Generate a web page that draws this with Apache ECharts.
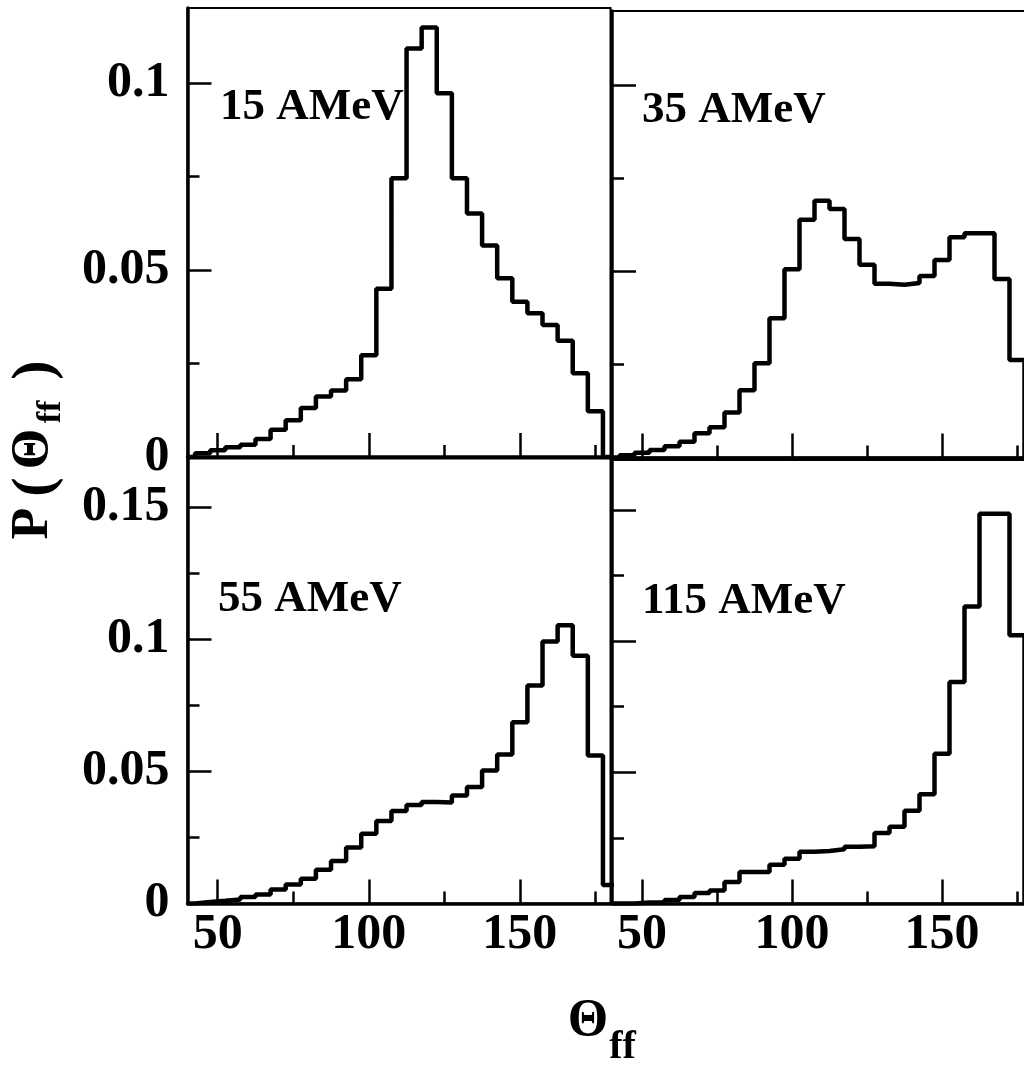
<!DOCTYPE html>
<html>
<head>
<meta charset="utf-8">
<script src="https://cdn.jsdelivr.net/npm/echarts@6/dist/echarts.min.js"></script>
<style>html,body{margin:0;padding:0;background:#fff}#c{width:1024px;height:1066px}</style>
</head>
<body>
<div id="c"></div>
<script>
// ---- data ----
const binCenters = [45,50,55,60,65,70,75,80,85,90,95,100,105,110,115,120,125,130,135,140,145,150,155,160,165,170,175,180];
const p15  = [0.001,0.0018,0.0026,0.0033,0.0048,0.0073,0.0098,0.0131,0.0162,0.0178,0.0208,0.0272,0.045,0.0745,0.1092,0.1148,0.0972,0.0745,0.0651,0.0565,0.0478,0.0415,0.0384,0.0353,0.0311,0.0224,0.0122,0];
const p35  = [0.0006,0.0013,0.002,0.003,0.0042,0.0065,0.0081,0.0121,0.0181,0.0253,0.0374,0.0506,0.0639,0.069,0.0668,0.0587,0.0518,0.0467,0.0464,0.0469,0.0488,0.0531,0.0592,0.0603,0.0603,0.048,0.0262,0];
const p55  = [0.0006,0.001,0.0015,0.0025,0.0034,0.0053,0.0072,0.0094,0.0128,0.0161,0.0212,0.0264,0.0312,0.035,0.0373,0.0384,0.0382,0.0409,0.0441,0.0504,0.0564,0.0686,0.0825,0.0992,0.1054,0.0938,0.056,0.007];
const p115 = [0,0.0004,0.0005,0.0013,0.0025,0.004,0.005,0.0082,0.012,0.012,0.0148,0.0171,0.0197,0.02,0.0207,0.0216,0.0218,0.0269,0.0292,0.0353,0.0416,0.0571,0.0844,0.1132,0.1485,0.1485,0.1022,0];
const panelLabels = ['15 AMeV','35 AMeV','55 AMeV','115 AMeV'];
const xMin = 40, xMax = 180;
const xMajorTicks = [50,100,150];
const xMinorTicks = [75,125,175];
const yMajorTop = [0,0.05,0.1];
const yMinorTop = [0.025,0.075];
const yMajorBottom = [0,0.05,0.1,0.15];
const yMinorBottom = [0.025,0.075,0.125];
const yMaxTop = 0.12, yMaxBottomL = 0.1685, yMaxBottomR = 0.169;

// ---- layout ----
const FONT = 'Liberation Serif';
const grids = [
  {left:187.5, top:8,   width:423, height:449},
  {left:612,   top:11,  width:420, height:446.5},
  {left:187.5, top:458.5, width:423, height:445},
  {left:612,   top:460, width:420, height:443.5}
];
const series = [p15,p35,p55,p115];
const yMaxes = [yMaxTop,yMaxTop,yMaxBottomL,yMaxBottomR];

function stepPoints(vals){
  const bw = binCenters[1]-binCenters[0];
  const pts = [[xMin,0]];
  binCenters.forEach((c,i)=>pts.push([c-bw/2, vals[i]]));
  pts.push([binCenters[binCenters.length-1]+bw/2, 0]);
  return pts;
}

const xAxis = [], yAxis = [], seriesOpt = [];
grids.forEach((g,i)=>{
  const bottomRow = i>=2, leftCol = (i%2===0);
  const yMaj = bottomRow ? yMajorBottom : yMajorTop;
  const yMin = bottomRow ? yMinorBottom : yMinorTop;
  xAxis.push({
    gridIndex:i, type:'value', min:xMin, max:xMax, position:'bottom',
    axisLine:{show:true, onZero:false, lineStyle:{color:'#000', width:3.5}},
    axisTick:{show:true, inside:true, length:24, customValues:xMajorTicks, lineStyle:{color:'#000', width:2.5}},
    axisLabel:{show:bottomRow, customValues:xMajorTicks, margin:7, color:'#000', fontFamily:FONT, fontWeight:'bold', fontSize:50},
    splitLine:{show:false}
  });
  xAxis.push({
    gridIndex:i, type:'value', min:xMin, max:xMax, position:'bottom',
    axisLine:{show:false},
    axisTick:{show:true, inside:true, length:12, customValues:xMinorTicks, lineStyle:{color:'#000', width:2.5}},
    axisLabel:{show:false},
    splitLine:{show:false}
  });
  yAxis.push({
    gridIndex:i, type:'value', min:0, max:yMaxes[i], position:'left',
    axisLine:{show:true, onZero:false, lineStyle:{color:'#000', width:3.5}},
    axisTick:{show:true, inside:true, length:24, customValues:yMaj, lineStyle:{color:'#000', width:2.5}},
    axisLabel:{show:leftCol, customValues:yMaj, margin:18, color:'#000', fontFamily:FONT, fontWeight:'bold', fontSize:50},
    splitLine:{show:false}
  });
  yAxis.push({
    gridIndex:i, type:'value', min:0, max:yMaxes[i], position:'left',
    axisLine:{show:false},
    axisTick:{show:true, inside:true, length:12, customValues:yMin, lineStyle:{color:'#000', width:2.5}},
    axisLabel:{show:false},
    splitLine:{show:false}
  });
  seriesOpt.push({
    type:'line', xAxisIndex:2*i, yAxisIndex:2*i, step:'end', symbol:'none',
    data:stepPoints(series[i]), lineStyle:{color:'#000', width:4.5}, silent:true, animation:false
  });
});

const labelPos = [[220,107.5],[642,110],[218,599],[642,601]];
const graphic = panelLabels.map((t,i)=>({
  type:'text', x:labelPos[i][0], y:labelPos[i][1],
  style:{text:t, fill:'#000', font:'bold 45px "'+FONT+'"', align:'left', verticalAlign:'middle'}
}));
// y-axis title P(Θff), rotated
const R = Math.PI/2;
[
  {t:'P', x:33.5, y:523.5, s:52},
  {t:'(', x:36,   y:487,   s:58},
  {t:'Θ', x:33.5, y:449,   s:52},
  {t:'ff',x:51,   y:412,   s:34},
  {t:')', x:36,   y:370,   s:58}
].forEach(p=>graphic.push({type:'text', x:p.x, y:p.y, rotation:R,
  style:{text:p.t, fill:'#000', font:'bold '+p.s+'px "'+FONT+'"', align:'center', verticalAlign:'middle'}}));
// x-axis title Θff
graphic.push({type:'text', x:588, y:1021.5, style:{text:'Θ', fill:'#000', font:'bold 52px "'+FONT+'"', align:'center', verticalAlign:'middle'}});
graphic.push({type:'text', x:622.5, y:1047.5, style:{text:'ff', fill:'#000', font:'bold 40px "'+FONT+'"', align:'center', verticalAlign:'middle'}});

const chart = echarts.init(document.getElementById('c'), null, {renderer:'canvas'});
chart.setOption({
  backgroundColor:'#fff',
  animation:false,
  grid: grids.map(g=>Object.assign({show:true, borderColor:'#000', borderWidth:2, backgroundColor:'transparent', containLabel:false, outerBoundsMode:'none'}, g)),
  xAxis, yAxis, series:seriesOpt, graphic
});
</script>
</body>
</html>
